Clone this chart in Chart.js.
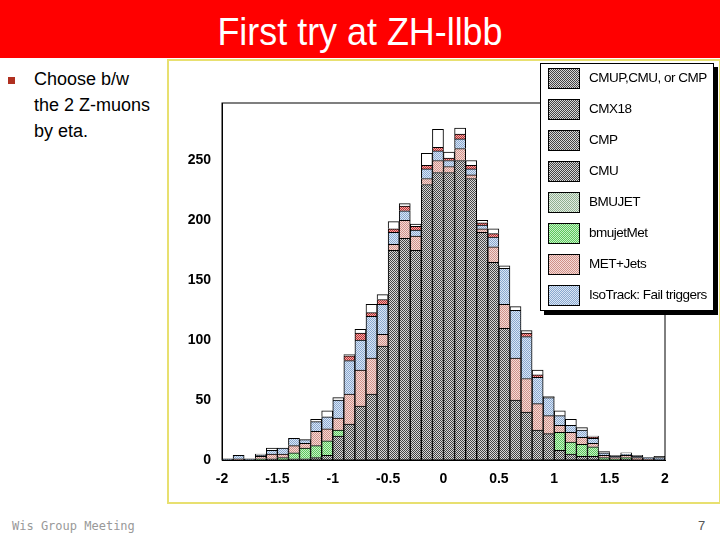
<!DOCTYPE html>
<html><head><meta charset="utf-8">
<script src="https://cdn.jsdelivr.net/npm/chart.js"></script>
<style>
body{margin:0;width:720px;height:540px;position:relative;background:#fff;font-family:"Liberation Sans",Arial,sans-serif;overflow:hidden}
#hdr{position:absolute;left:0;top:0;width:720px;height:58px;background:#f00}
#title{position:absolute;left:0;top:10px;width:720px;text-align:center;color:#fff;font-size:39px;transform:scaleX(0.92)}
#bul{position:absolute;left:8px;top:66px;font-size:18px;line-height:26px;color:#000}
#bul span{display:inline-block;width:7px;height:7px;background:#b03020;margin-right:19px;vertical-align:middle}
#box{position:absolute;left:167px;top:59px;width:550px;height:441px;border:2px solid #e8e070;background:#fff}
#wrap{position:absolute;left:168px;top:60px;width:552px;height:442px}
#leg{position:absolute;left:540px;top:63px;width:172px;height:246px;background:#fff;border:1px solid #000;box-shadow:4px 4px 0 #000;font-size:13.5px;letter-spacing:-0.5px}
.it{position:absolute;left:7px;height:20px}
.sw{position:absolute;left:0;top:0;width:30px;height:19px;border:1px solid #000}
.lb{position:absolute;left:41px;top:2px;white-space:nowrap}
#foot{position:absolute;left:12px;top:519px;font-family:"DejaVu Sans Mono",monospace;font-size:12px;color:#999}
#pg{position:absolute;left:698px;top:518px;font-size:13px;color:#555}
</style></head><body>
<div id="hdr"></div><div id="title">First try at ZH-llbb</div>
<div id="bul"><span></span>Choose b/w<br><span style="visibility:hidden"></span>the 2 Z-muons<br><span style="visibility:hidden"></span>by eta.</div>
<div id="box"></div>
<div id="wrap"><canvas id="c" width="552" height="442"></canvas></div>
<div id="leg"></div>
<div id="foot">Wis Group Meeting</div><div id="pg">7</div>
<script>
const bins = Array.from({length:40},(_,i)=>(-1.95+i*0.1).toFixed(2));
const gray   =[0,0,0,0,1,0,1,1,2,4,20,30,45,55,95,175,185,175,230,240,240,250,235,190,165,110,50,40,25,22,8,5,3,3,0,0,1,0,0,0];
const green  =[0,0,0,1,0,2,5,9,10,12,5,0,0,0,0,0,0,0,0,0,0,0,0,0,0,0,0,0,0,0,15,10,10,8,2,1,1,0,0,0];
const pink   =[0,1,0,2,4,3,6,4,12,10,10,25,30,30,10,5,15,12,5,10,5,10,3,3,13,20,35,28,22,15,6,8,6,3,2,1,2,2,1,0];
const blue   =[1,3,1,1,3,5,6,3,8,10,15,28,25,35,25,10,8,5,8,8,5,8,5,3,8,30,40,35,22,15,8,6,6,4,2,1,1,1,1,2];
const red    =[0,0,0,0,0,0,0,0,0,0,0,4,6,3,4,3,4,3,3,3,2,4,3,2,3,0,0,3,2,0,0,0,0,1,0,0,0,0,0,0];
const other  =[0,0,0,1,2,0,0,0,2,5,2,1,3,7,4,6,2,2,10,15,5,5,4,2,4,2,3,2,4,1,4,5,2,1,1,1,1,1,0,1];
const yTicks =[0,50,100,150,200,250];
const xTicks =[-2,-1.5,-1,-0.5,0,0.5,1,1.5,2];
const legendLabels=["CMUP,CMU, or CMP","CMX18","CMP","CMU","BMUJET","bmujetMet","MET+Jets","IsoTrack: Fail triggers"];

function pat(fg,bg){const c=document.createElement('canvas');c.width=c.height=2;const x=c.getContext('2d');
x.fillStyle=bg;x.fillRect(0,0,2,2);x.fillStyle=fg;x.fillRect(0,0,1,1);x.fillRect(1,1,1,1);return c;}
const cols={gray:['#444','#d8d8d8'],lgreen:['#90b090','#e4ece4'],green:['#5cc85c','#c8f0c8'],pink:['#d09088','#f4dcd8'],blue:['#88a8d0','#dce6f4'],red:['#c03030','#f0b0b0']};
const pc=document.getElementById('c').getContext('2d');
const P={};for(const k in cols)P[k]=pc.createPattern(pat(...cols[k]),'repeat');
const ds=(d,bg)=>({data:d,backgroundColor:bg,borderColor:'#000',borderWidth:1,barPercentage:1,categoryPercentage:1,xAxisID:'x',stack:'s'});
const tf={family:'Liberation Sans',size:14,weight:'bold'};
new Chart(document.getElementById('c'),{type:'bar',data:{labels:bins,datasets:[ds(gray,P.gray),ds(green,P.green),ds(pink,P.pink),ds(blue,P.blue),ds(red,P.red),ds(other,'#fff')]},
options:{responsive:false,animation:false,layout:{padding:{left:4,right:55,top:43,bottom:12}},
plugins:{legend:{display:false},tooltip:{enabled:false}},
scales:{x:{stacked:true,display:false},
x2:{type:'linear',position:'bottom',offset:false,min:-2,max:2,grid:{display:false},border:{color:'#000'},
afterBuildTicks:s=>{s.ticks=xTicks.map(v=>({value:v}))},
ticks:{color:'#000',font:tf,callback:v=>String(v)},afterFit:s=>{s.height=30}},
y:{stacked:true,min:0,max:298,grid:{display:false},border:{color:'#000'},
afterBuildTicks:s=>{s.ticks=yTicks.map(v=>({value:v}))},
ticks:{color:'#000',font:tf,callback:v=>String(Math.round(v))},afterFit:s=>{s.width=50}}}},
plugins:[{id:'frame',afterDraw(c){const a=c.chartArea,x=c.ctx;x.save();x.strokeStyle='#000';x.lineWidth=1;x.strokeRect(a.left,a.top,a.right-a.left,a.bottom-a.top);x.restore();}}]});
const sw=['gray','gray','gray','gray','lgreen','green','pink','blue'];
const leg=document.getElementById('leg');
legendLabels.forEach((l,i)=>{const d=document.createElement('div');d.className='it';d.style.top=(4+i*31)+'px';
const s=document.createElement('canvas');s.className='sw';s.width=30;s.height=19;const sx=s.getContext('2d');sx.fillStyle=sx.createPattern(pat(...cols[sw[i]]),'repeat');sx.fillRect(0,0,30,19);
const t=document.createElement('span');t.className='lb';t.textContent=l;d.appendChild(s);d.appendChild(t);leg.appendChild(d);});
</script></body></html>
